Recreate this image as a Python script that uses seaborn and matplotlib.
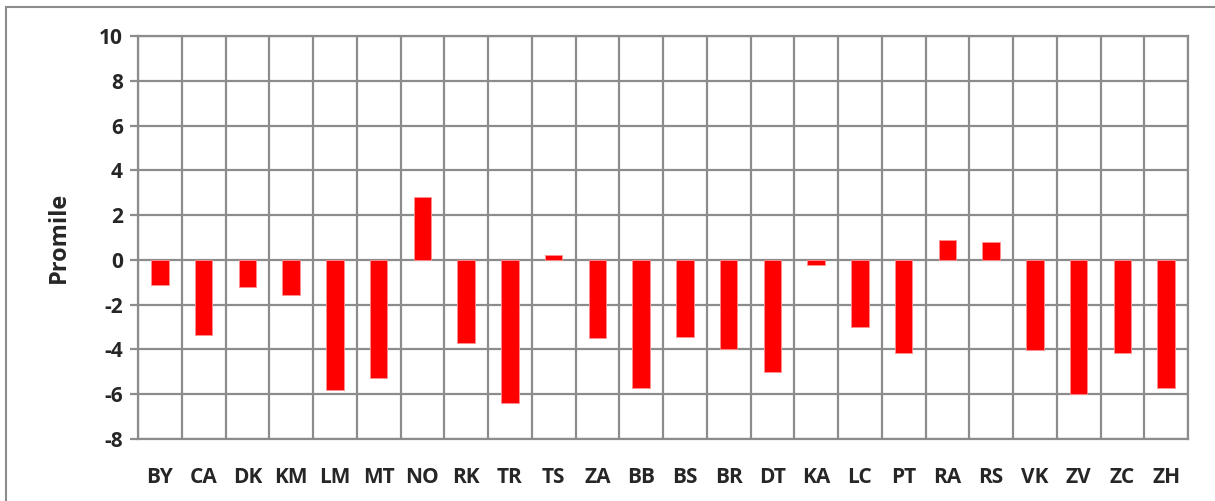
import matplotlib
matplotlib.use("Agg")
import matplotlib.pyplot as plt
import seaborn as sns
import pandas as pd
import numpy as np
from matplotlib.patches import Rectangle

categories = ["BY", "CA", "DK", "KM", "LM", "MT", "NO", "RK", "TR", "TS", "ZA", "BB",
              "BS", "BR", "DT", "KA", "LC", "PT", "RA", "RS", "VK", "ZV", "ZC", "ZH"]
values = [-1.1, -3.35, -1.2, -1.57, -5.82, -5.28, 2.79, -3.72, -6.4, 0.21, -3.47, -5.74,
          -3.45, -3.97, -4.99, -0.24, -3.0, -4.18, 0.89, 0.8, -4.01, -5.97, -4.18, -5.74]
y_ticks = [-8, -6, -4, -2, 0, 2, 4, 6, 8, 10]
y_label = "Promile"

sns.set_theme(style="white")
plt.rcParams['font.family'] = ['Open Sans', 'DejaVu Sans']

df = pd.DataFrame({"cat": categories, "val": values})

fig = plt.figure(figsize=(12.15, 5.01), dpi=100)
ax = fig.add_axes([138/1215, 1 - 439/501, (1188-138)/1215, (439-36)/501])

grid_c = "#8c8c8c"
ax.set_axisbelow(True)
sns.barplot(data=df, x="cat", y="val", color="#ff0000", width=0.4, ax=ax,
            saturation=1, zorder=3)
for p in ax.patches:
    p.set_edgecolor("#ff9090")
    p.set_linewidth(0.6)

ax.set_xlim(-0.5, len(categories) - 0.5)
ax.set_ylim(-8, 10)
ax.set_yticks(y_ticks)
ax.set_yticklabels([str(t) for t in y_ticks], fontsize=15, fontweight="bold")
ax.set_xticks(range(len(categories)))
ax.set_xticklabels(categories, fontsize=15, fontweight="bold")
ax.set_xticks(np.arange(-0.5, len(categories), 1.0), minor=True)
ax.grid(True, which="major", axis="y", color=grid_c, linewidth=1.6)
ax.grid(True, which="minor", axis="x", color=grid_c, linewidth=1.6)
ax.grid(False, which="major", axis="x")
ax.tick_params(axis="x", which="both", length=0, pad=20)
ax.tick_params(axis="y", length=6, width=1.6, color=grid_c, pad=5, direction="out", left=True)
for s in ax.spines.values():
    s.set_color(grid_c)
    s.set_linewidth(1.6)
ax.set_xlabel("")
ax.set_ylabel(y_label, fontsize=17, fontweight="bold", labelpad=20)

fig.patches.append(Rectangle((6/1215, -0.1), 1.2, (1 - 7/501) + 0.1, transform=fig.transFigure,
                             fill=False, edgecolor="#8c8c8c", linewidth=1.5))

fig.savefig("out.png", dpi=100)
